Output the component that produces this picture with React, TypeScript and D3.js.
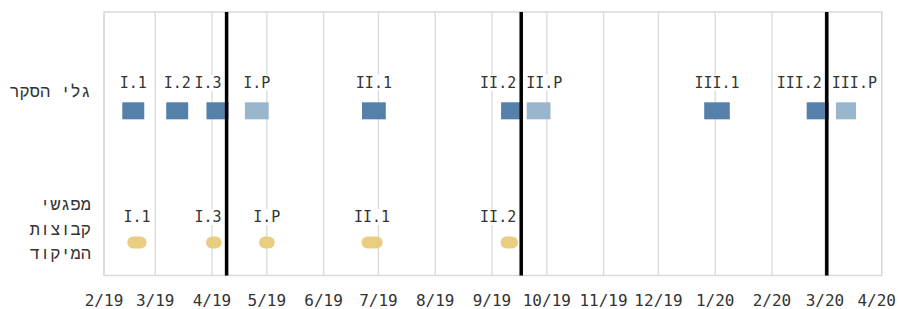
import React from 'react';
import * as d3 from 'd3';

// survey waves (start / end dates of fieldwork)
const surveyWaves = ['I.1', 'I.2', 'I.3', 'I.P', 'II.1', 'II.2', 'II.P', 'III.1', 'III.2', 'III.P'];
const surveyStart = ['2019-02-11', '2019-03-07', '2019-03-29', '2019-04-19', '2019-06-22', '2019-09-06', '2019-09-20', '2019-12-26', '2020-02-20', '2020-03-07'];
const surveyEnd = ['2019-02-23', '2019-03-19', '2019-04-10', '2019-05-02', '2019-07-05', '2019-09-18', '2019-10-03', '2020-01-09', '2020-03-03', '2020-03-18'];

// focus group meetings
const focusGroups = ['I.1', 'I.3', 'I.P', 'II.1', 'II.2'];
const focusStart = ['2019-02-17', '2019-04-01', '2019-04-30', '2019-06-25', '2019-09-09'];
const focusEnd = ['2019-02-21', '2019-04-03', '2019-05-02', '2019-06-30', '2019-09-12'];

// election days
const electionDates = ['2019-04-09', '2019-09-17', '2020-03-02'];

// rows
const rowLabels = [['גלי הסקר'], ['מפגשי', 'קבוצות', 'המיקוד']];
const rowValues = [1.25, 0.25];

const axisStart = '2019-02-01';
const axisEnd = '2020-04-01';

const FONT = '"DejaVu Sans Mono", monospace';
const HEB_FONT = '"Liberation Mono", "DejaVu Sans", monospace';
const TEXT = '#333333';
const GRID = '#d9d9d9';
const WAVE_COLOR = '#5580aa';
const POST_COLOR = '#98b7cc';
const FOCUS_COLOR = '#e9cd80';

export default function App(): JSX.Element {
  const width = 899;
  const height = 309;
  const margin = { top: 12, right: 17.3, bottom: 33.5, left: 104 };

  const parse = d3.utcParse('%Y-%m-%d');
  const x = d3
    .scaleUtc()
    .domain([parse(axisStart) as Date, parse(axisEnd) as Date])
    .range([margin.left, width - margin.right]);
  const y = d3
    .scaleLinear()
    .domain([0, 2])
    .range([height - margin.bottom, margin.top]);

  const ticks = x.ticks(d3.utcMonth.every(1) as d3.TimeInterval);
  const fmt = d3.utcFormat('%-m/%y');
  const elections = electionDates.map((d) => x(parse(d) as Date));

  const labelSize = 15;
  const tickSize = 16;
  const gap = 5;
  // keep labels off the election lines
  const placeLabel = (cx: number, text: string) => {
    const w = text.length * 0.602 * labelSize;
    let x0 = cx - w / 2;
    elections.forEach((ex) => {
      if (x0 < ex + gap && x0 + w > ex - gap) {
        x0 = cx < ex ? ex - gap - w : ex + gap;
      }
    });
    return { x0, w };
  };

  const surveyY = y(rowValues[0]);
  const focusY = y(rowValues[1]);
  const barH = 17;

  const surveyMarks = surveyWaves.map((name, i) => {
    const x0 = x(parse(surveyStart[i]) as Date);
    const x1 = x(parse(surveyEnd[i]) as Date);
    return { name, x0, x1, post: name.endsWith('.P'), label: placeLabel((x0 + x1) / 2, name) };
  });
  const focusMarks = focusGroups.map((name, i) => {
    const x0 = x(parse(focusStart[i]) as Date);
    const x1 = x(parse(focusEnd[i]) as Date);
    return { name, x0, x1, label: placeLabel((x0 + x1) / 2, name) };
  });

  const labelOffsets = [-19.5, -13.5];
  const lineH = 24.5;

  const renderLabel = (name: string, lab: { x0: number; w: number }, baseline: number) => (
    <g key={'l' + name + baseline}>
      <rect x={lab.x0 - 2} y={baseline - 13} width={lab.w + 4} height={16} fill="white" />
      <text x={lab.x0 + lab.w / 2} y={baseline} textAnchor="middle" fontSize={labelSize} fontFamily={FONT} fill={TEXT}>
        {name}
      </text>
    </g>
  );

  return (
    <svg width={width} height={height} style={{ position: 'absolute', left: 0, top: 0 }}>
      <rect x={0} y={0} width={width} height={height} fill="white" />
      {/* month gridlines */}
      {ticks.map((t) => (
        <line key={'g' + t.getTime()} x1={x(t)} x2={x(t)} y1={margin.top} y2={height - margin.bottom} stroke={GRID} strokeWidth={1.3} />
      ))}
      <rect
        x={margin.left}
        y={margin.top}
        width={width - margin.left - margin.right}
        height={height - margin.top - margin.bottom}
        fill="none"
        stroke={GRID}
        strokeWidth={1.5}
      />
      {ticks.map((t) => {
        const s = fmt(t);
        const half = (s.length * 0.602 * tickSize) / 2;
        const cx = Math.min(x(t), width - 3 - half);
        return (
          <text key={'t' + t.getTime()} x={cx} y={height - 3} textAnchor="middle" fontSize={tickSize} fontFamily={FONT} fill={TEXT}>
            {s}
          </text>
        );
      })}
      {/* row labels */}
      {rowLabels.map((lines, i) => {
        const c = y(rowValues[i]) + labelOffsets[i];
        const first = c + 5.5 - ((lines.length - 1) * lineH) / 2;
        return lines.map((ln, j) => (
          <text key={'r' + i + j} x={91} y={first + j * lineH} textAnchor="end" fontSize={17} fontFamily={HEB_FONT} fill={TEXT}>
            {ln}
          </text>
        ));
      })}
      {/* labels */}
      {surveyMarks.map((m) => renderLabel(m.name, m.label, surveyY - barH / 2 - 14.5))}
      {focusMarks.map((m) => renderLabel(m.name, m.label, focusY - 6 - 14.5))}
      {/* survey waves */}
      {surveyMarks.map((m) => (
        <rect key={'s' + m.name} x={m.x0} y={surveyY - barH / 2} width={m.x1 - m.x0} height={barH} fill={m.post ? POST_COLOR : WAVE_COLOR} />
      ))}
      {/* focus groups */}
      {focusMarks.map((m) => (
        <line key={'f' + m.name} x1={m.x0} x2={m.x1} y1={focusY} y2={focusY} stroke={FOCUS_COLOR} strokeWidth={12} strokeLinecap="round" />
      ))}
      {/* elections */}
      {elections.map((ex, i) => (
        <line key={'e' + i} x1={ex} x2={ex} y1={margin.top} y2={height - margin.bottom} stroke="black" strokeWidth={3.5} />
      ))}
    </svg>
  );
}
